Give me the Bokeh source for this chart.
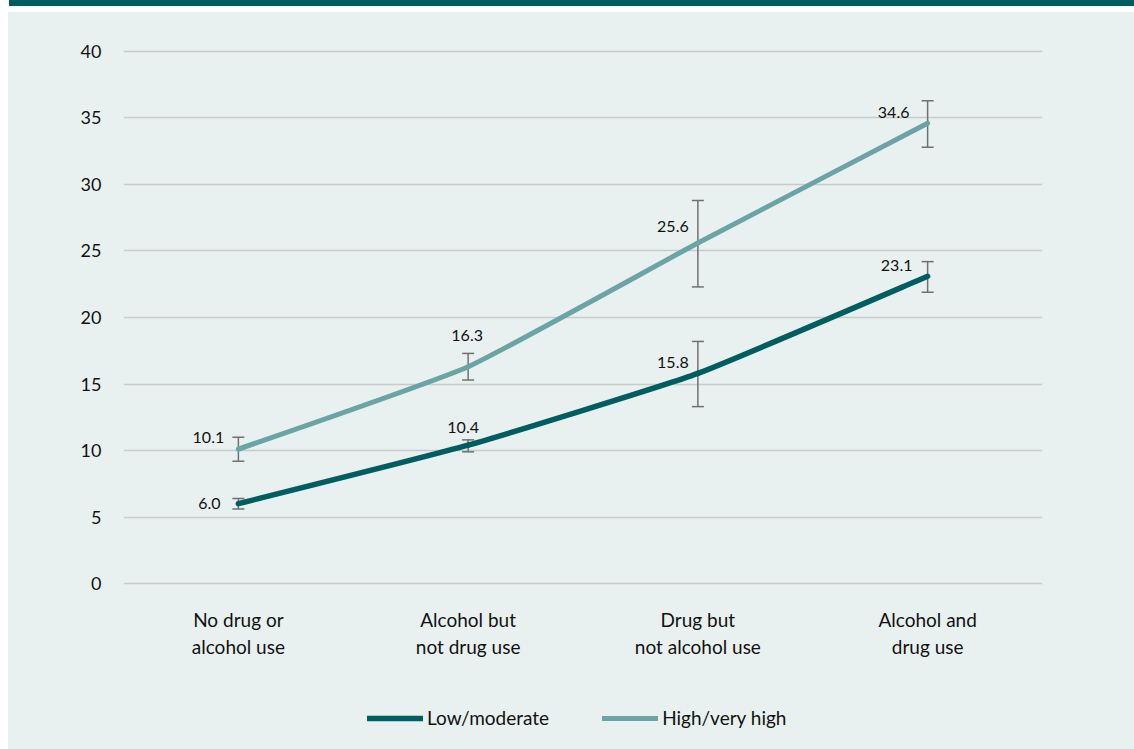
from bokeh.plotting import figure
from bokeh.models import (ColumnDataSource, Range1d, FixedTicker, Whisker, TeeHead,
                          Legend, LegendItem, Div, Spacer)
from bokeh.layouts import column, row
from bokeh.embed import file_html
from bokeh.resources import INLINE
from bokeh.core.properties import value

# ---- data ----
categories = ["No drug or\nalcohol use", "Alcohol but\nnot drug use",
              "Drug but\nnot alcohol use", "Alcohol and\ndrug use"]
low_moderate = [6.0, 10.4, 15.8, 23.1]
low_moderate_lower = [5.6, 9.9, 13.3, 21.9]
low_moderate_upper = [6.4, 10.8, 18.2, 24.2]
high_very_high = [10.1, 16.3, 25.6, 34.6]
high_very_high_lower = [9.2, 15.3, 22.3, 32.8]
high_very_high_upper = [11.0, 17.3, 28.8, 36.3]
y_ticks = [0, 5, 10, 15, 20, 25, 30, 35, 40]
series_names = ["Low/moderate", "High/very high"]

# ---- styles ----
BG = "#E9F1F0"
DARK = "#005E60"
LIGHT = "#6BA4A4"
HEAD = "#005E62"
FONT = "Lato"
ERR = "#707070"
TENSION = 1.0 / 14.0
PAD = 0.15
# label offsets (screen px) for each series' data labels
low_label_dx = [-29, -5, -25, -31]
low_label_dy = [0, -18, -11, -11]
high_label_dx = [-30, -1, -25, -34]
high_label_dy = [-12, -31, -17, -11]

xs = list(range(len(categories)))


def smooth(xv, yv):
    n = len(xv)
    out = dict(x0=[], y0=[], x1=[], y1=[], cx0=[], cy0=[], cx1=[], cy1=[])
    for i in range(n - 1):
        a = max(i - 1, 0)
        d = min(i + 2, n - 1)
        out["x0"].append(xv[i]); out["y0"].append(yv[i])
        out["x1"].append(xv[i + 1]); out["y1"].append(yv[i + 1])
        out["cx0"].append(xv[i] + (xv[i + 1] - xv[a]) * TENSION)
        out["cy0"].append(yv[i] + (yv[i + 1] - yv[a]) * TENSION)
        out["cx1"].append(xv[i + 1] - (xv[d] - xv[i]) * TENSION)
        out["cy1"].append(yv[i + 1] - (yv[d] - yv[i]) * TENSION)
    return out


p = figure(width=1126, height=680, x_range=Range1d(-0.5, 3.5),
           y_range=Range1d(y_ticks[0] - PAD, y_ticks[-1] + PAD),
           output_backend="svg", toolbar_location=None,
           min_border_left=115, min_border_right=92, min_border_top=37, min_border_bottom=107,
           background_fill_color=None, border_fill_color=None, outline_line_color=None)

# axes
p.yaxis.ticker = FixedTicker(ticks=y_ticks)
p.ygrid.ticker = FixedTicker(ticks=y_ticks)
p.ygrid.grid_line_color = "#C8CBCB"
p.ygrid.grid_line_width = 1.5
p.xgrid.grid_line_color = None
for ax in (p.xaxis[0], p.yaxis[0]):
    ax.axis_line_color = None
    ax.major_tick_line_color = None
    ax.minor_tick_line_color = None
    ax.major_label_text_font = FONT
    ax.major_label_text_color = "#111111"
p.yaxis.major_label_text_font_size = "18px"
p.yaxis.major_label_standoff = 16
p.xaxis.major_label_text_font_size = "19px"
p.xaxis.ticker = FixedTicker(ticks=xs)
p.xaxis.major_label_overrides = {i: c for i, c in zip(xs, categories)}
p.xaxis.major_label_standoff = 16
p.xaxis.major_label_text_line_height = 1.2

# lines
r_low = p.bezier(source=ColumnDataSource(smooth(xs, low_moderate)),
                 x0="x0", y0="y0", x1="x1", y1="y1", cx0="cx0", cy0="cy0", cx1="cx1", cy1="cy1",
                 line_color=DARK, line_width=5.5, line_cap="round")
r_high = p.bezier(source=ColumnDataSource(smooth(xs, high_very_high)),
                  x0="x0", y0="y0", x1="x1", y1="y1", cx0="cx0", cy0="cy0", cx1="cx1", cy1="cy1",
                  line_color=LIGHT, line_width=5, line_cap="round")

# error bars
for lo, hi in ((low_moderate_lower, low_moderate_upper),
               (high_very_high_lower, high_very_high_upper)):
    src = ColumnDataSource(dict(x=xs, lower=lo, upper=hi))
    w = Whisker(source=src, base="x", lower="lower", upper="upper",
                line_color=ERR, line_width=1.5,
                upper_head=TeeHead(size=12, line_color=ERR, line_width=1.5),
                lower_head=TeeHead(size=12, line_color=ERR, line_width=1.5))
    p.add_layout(w)

# data labels
for vals, dx, dy in ((low_moderate, low_label_dx, low_label_dy),
                     (high_very_high, high_label_dx, high_label_dy)):
    src = ColumnDataSource(dict(x=xs, y=vals, t=["%.1f" % v for v in vals], dx=dx, dy=dy))
    p.text(x="x", y="y", text="t", x_offset="dx", y_offset="dy", source=src,
           text_font=value(FONT), text_font_size="16px", text_color="#111111",
           text_align="center", text_baseline="middle")

# legend strip (separate figure below the chart; its frame is aligned with the chart's)
lg = figure(width=1126, height=57, x_range=Range1d(0, 1), y_range=Range1d(0, 1),
            output_backend="svg", toolbar_location=None, x_axis_type=None, y_axis_type=None,
            min_border=0, background_fill_color=None, border_fill_color=None,
            outline_line_color=None)
lg.xgrid.visible = False
lg.ygrid.visible = False
nan = float("nan")
k_low = lg.line(x=[nan], y=[nan], line_color=DARK, line_width=5.5, line_cap="round")
k_high = lg.line(x=[nan], y=[nan], line_color=LIGHT, line_width=5, line_cap="round")
legend = Legend(items=[LegendItem(label=series_names[0], renderers=[k_low]),
                       LegendItem(label=series_names[1], renderers=[k_high])],
                orientation="horizontal", location=(244, 20),
                glyph_width=56, glyph_height=20, label_height=20, label_standoff=4, spacing=53,
                padding=0, margin=0, border_line_color=None, background_fill_alpha=0,
                label_text_font=FONT, label_text_font_size="19px", label_text_color="#111111")
lg.add_layout(legend)

header = Div(text="", width=1125, height=6, margin=(0, 0, 6, 9),
             styles={"background-color": HEAD})
panel = column(p, lg, spacing=0, styles={"background-color": BG})
layout = column(header,
                row(Spacer(width=8, height=737), panel, spacing=0),
                spacing=0)

open("out.html", "w").write(file_html(layout, INLINE))
